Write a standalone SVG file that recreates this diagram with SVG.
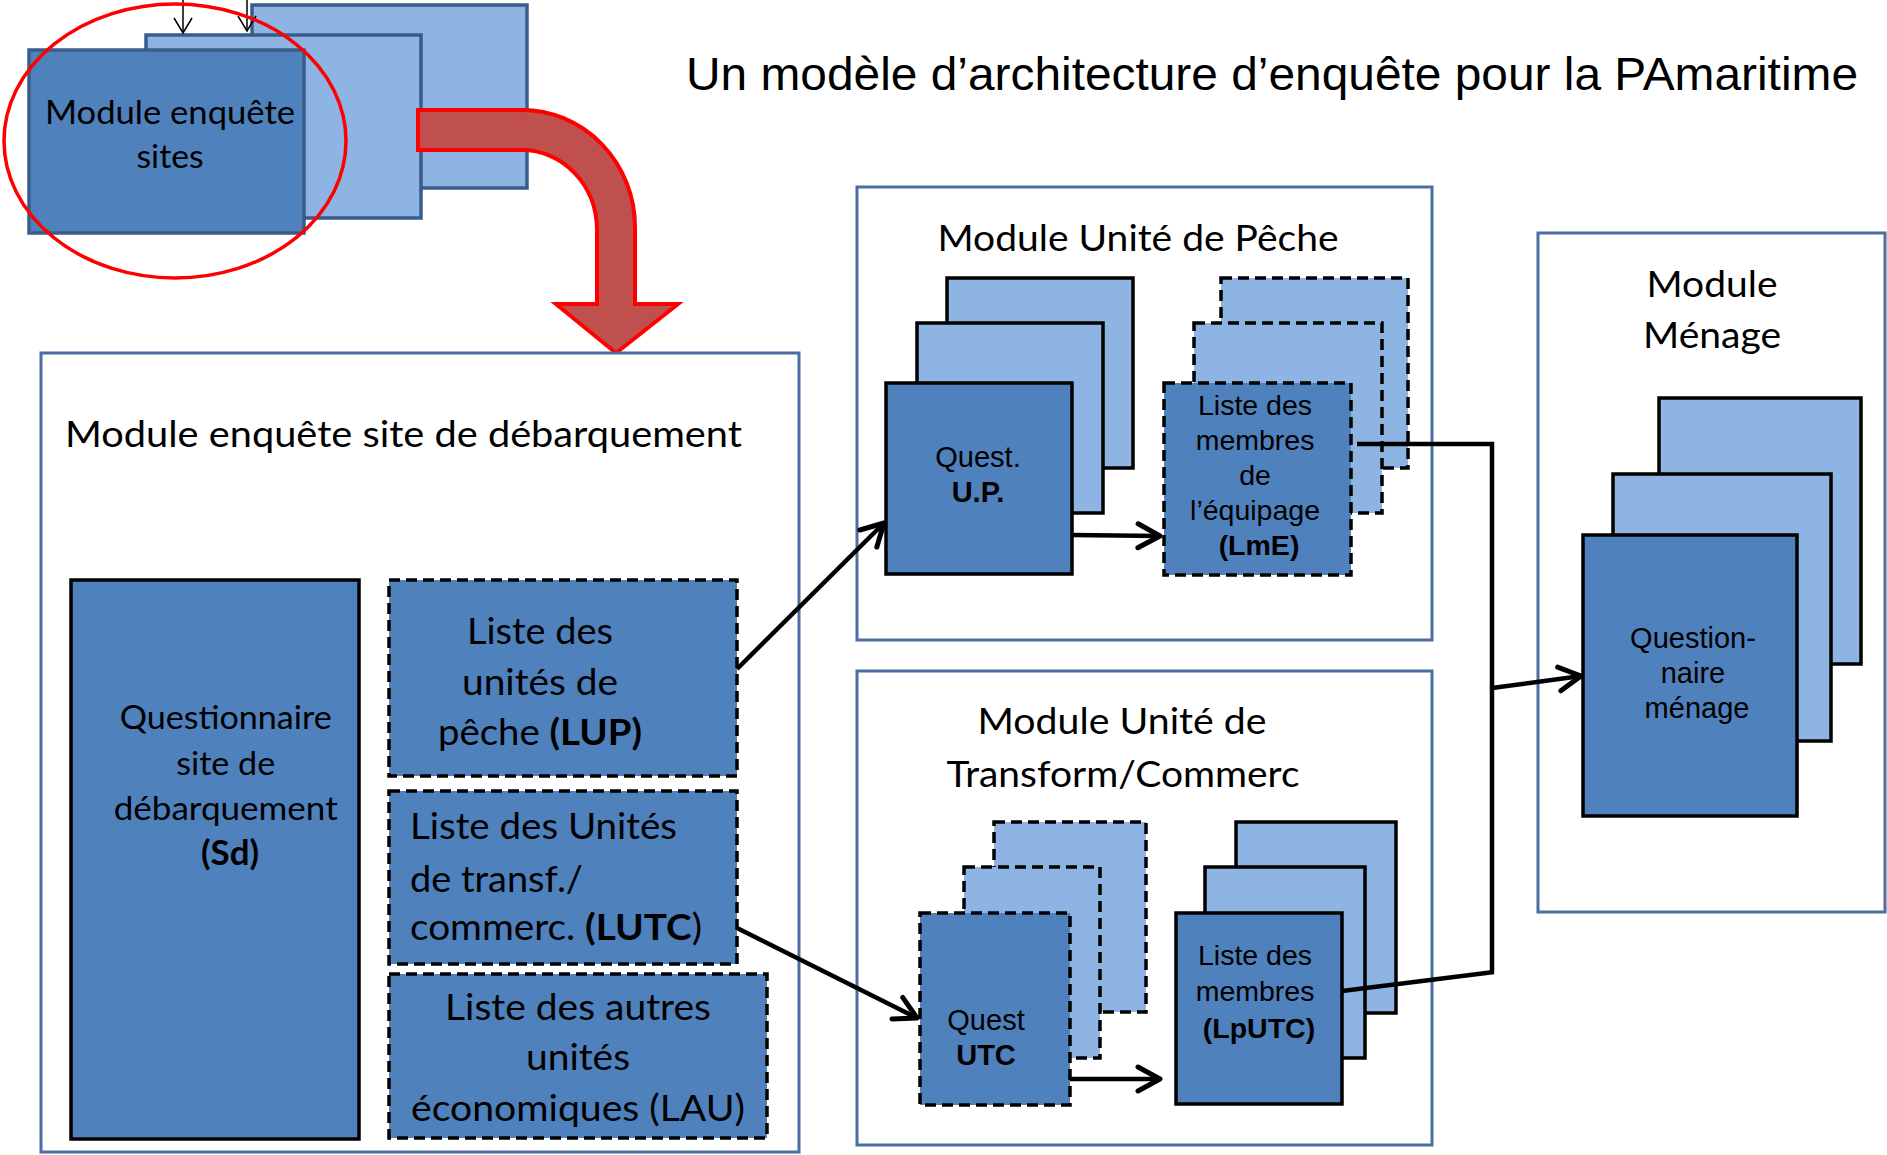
<svg xmlns="http://www.w3.org/2000/svg" width="1887" height="1155" viewBox="0 0 1887 1155">
<style>
.cont{fill:#fff;stroke:#4A6FA0;stroke-width:3}
.dk{fill:#4F81BD;stroke:#000;stroke-width:3.5}
.lt{fill:#8EB4E3;stroke:#000;stroke-width:3.5}
.dash{stroke-dasharray:11 6}
.tdk{fill:#4F81BD;stroke:#385D8A;stroke-width:3.5}
.tlt{fill:#8EB4E3;stroke:#385D8A;stroke-width:3.5}
.conn{fill:none;stroke:#000;stroke-width:4.5}
.cal{font-family:Lato,"Open Sans",sans-serif;fill:#000}
.ari{font-family:"Liberation Sans",Arial,sans-serif;fill:#000}
.b{font-weight:bold}
</style>
<defs>
<marker id="ah" markerUnits="userSpaceOnUse" viewBox="0 0 30 30" refX="26" refY="15" markerWidth="30" markerHeight="30" orient="auto"><path d="M4,3 L26,15 L4,27" fill="none" stroke="#000" stroke-width="5" stroke-linecap="round" stroke-linejoin="round"/></marker>
<marker id="ahs" markerUnits="userSpaceOnUse" viewBox="0 0 20 20" refX="17" refY="10" markerWidth="20" markerHeight="20" orient="auto"><path d="M2,1 L17,10 L2,19" fill="none" stroke="#000" stroke-width="1.5"/></marker>
</defs>
<rect width="1887" height="1155" fill="#fff"/>

<text class="ari" x="686" y="90" font-size="46" textLength="1172" lengthAdjust="spacingAndGlyphs">Un modèle d’architecture d’enquête pour la PAmaritime</text>

<g id="module-sites">
<rect class="tlt" x="252" y="5" width="275" height="183"/>
<rect class="tlt" x="146" y="35" width="275" height="183"/>
<rect class="tdk" x="29" y="50" width="275" height="183"/>
<text class="cal" text-anchor="middle" font-size="33"><tspan x="170" y="124" textLength="250" lengthAdjust="spacingAndGlyphs">Module enquête</tspan><tspan x="170" y="168" textLength="67" lengthAdjust="spacingAndGlyphs">sites</tspan></text>
</g>

<g id="top-arrows">
<line x1="183" y1="0" x2="183" y2="33" stroke="#000" stroke-width="1.5" marker-end="url(#ahs)"/>
<line x1="247" y1="0" x2="247" y2="31" stroke="#000" stroke-width="1.5" marker-end="url(#ahs)"/>
</g>

<g id="red-arrow">
<path d="M418,110 L522,110 A113,117 0 0 1 635,227 L635,304 L678,304 L616,353 L556,304 L597,304 L597,230 A75,80 0 0 0 522,150 L418,150 Z" fill="#C0504D" stroke="#FF0000" stroke-width="4" stroke-linejoin="miter"/>
</g>

<g id="highlight">
<ellipse cx="175" cy="141" rx="171" ry="137" fill="none" stroke="#FF0000" stroke-width="3.5"/>
</g>

<g id="module-debarquement">
<rect class="cont" x="41" y="353" width="758" height="799"/>
<text class="cal" x="65" y="447" font-size="36" textLength="677" lengthAdjust="spacingAndGlyphs">Module enquête site de débarquement</text>
</g>

<g id="questionnaire-sd">
<rect class="dk" x="71" y="580" width="288" height="559"/>
<text class="cal" text-anchor="middle" font-size="33.5">
<tspan x="230" y="729" textLength="212" lengthAdjust="spacingAndGlyphs">Questionnaire</tspan>
<tspan x="230" y="775" textLength="99" lengthAdjust="spacingAndGlyphs">site de</tspan>
<tspan x="230" y="820" textLength="224" lengthAdjust="spacingAndGlyphs">débarquement</tspan>
<tspan x="230" y="865" class="b" textLength="58" lengthAdjust="spacingAndGlyphs">(Sd)</tspan>
</text>
</g>

<g id="lup">
<rect class="dk dash" x="389" y="580" width="348" height="196"/>
<text class="cal" text-anchor="middle" font-size="37" x="540" y="644" textLength="146" lengthAdjust="spacingAndGlyphs">Liste des</text>
<text class="cal" text-anchor="middle" font-size="37" x="540" y="695" textLength="156" lengthAdjust="spacingAndGlyphs">unités de</text>
<text class="cal" text-anchor="middle" font-size="37" x="540" y="745" textLength="204" lengthAdjust="spacingAndGlyphs">pêche <tspan class="b">(LUP)</tspan></text>
</g>

<g id="lutc">
<rect class="dk dash" x="389" y="791" width="348" height="173"/>
<text class="cal" font-size="37" x="410" y="839" textLength="267" lengthAdjust="spacingAndGlyphs">Liste des Unités</text>
<text class="cal" font-size="37" x="410" y="892" textLength="173" lengthAdjust="spacingAndGlyphs">de transf./</text>
<text class="cal" font-size="37" x="410" y="940" textLength="292" lengthAdjust="spacingAndGlyphs">commerc. <tspan class="b">(LUTC</tspan>)</text>
</g>

<g id="lau">
<rect class="dk dash" x="389" y="974" width="378" height="164"/>
<text class="cal" text-anchor="middle" font-size="37" x="578" y="1020" textLength="266" lengthAdjust="spacingAndGlyphs">Liste des autres</text>
<text class="cal" text-anchor="middle" font-size="37" x="578" y="1070" textLength="104" lengthAdjust="spacingAndGlyphs">unités</text>
<text class="cal" text-anchor="middle" font-size="37" x="578" y="1121" textLength="334" lengthAdjust="spacingAndGlyphs">économiques (LAU)</text>
</g>

<g id="module-peche">
<rect class="cont" x="857" y="187" width="575" height="453"/>
<text class="cal" text-anchor="middle" font-size="36" x="1138" y="251" textLength="401" lengthAdjust="spacingAndGlyphs">Module Unité de Pêche</text>
</g>

<g id="quest-up">
<rect class="lt" x="947" y="278" width="186" height="190"/>
<rect class="lt" x="917" y="323" width="186" height="190"/>
<rect class="dk" x="886" y="383" width="186" height="191"/>
<text class="ari" text-anchor="middle" font-size="29"><tspan x="978" y="467">Quest.</tspan><tspan x="978" y="502" class="b">U.P.</tspan></text>
</g>

<g id="lme">
<rect class="lt dash" x="1221" y="278" width="187" height="190"/>
<rect class="lt dash" x="1194" y="323" width="188" height="190"/>
<rect class="dk dash" x="1164" y="383" width="187" height="192"/>
<text class="ari" text-anchor="middle" font-size="28.5">
<tspan x="1259" y="415">Liste des</tspan>
<tspan x="1259" y="450">membres</tspan>
<tspan x="1259" y="485">de</tspan>
<tspan x="1259" y="520">l’équipage</tspan>
<tspan x="1259" y="555" class="b">(LmE)</tspan>
</text>
</g>

<g id="module-transform">
<rect class="cont" x="857" y="671" width="575" height="474"/>
<text class="cal" text-anchor="middle" font-size="36" x="1122" y="734" textLength="289" lengthAdjust="spacingAndGlyphs">Module Unité de</text>
<text class="cal" text-anchor="middle" font-size="36" x="1123" y="787" textLength="353" lengthAdjust="spacingAndGlyphs">Transform/Commerc</text>
</g>

<g id="quest-utc">
<rect class="lt dash" x="994" y="822" width="152" height="190"/>
<rect class="lt dash" x="964" y="867" width="136" height="191"/>
<rect class="dk dash" x="920" y="913" width="150" height="192"/>
<text class="ari" text-anchor="middle" font-size="29"><tspan x="986" y="1030">Quest</tspan><tspan x="986" y="1065" class="b">UTC</tspan></text>
</g>

<g id="lputc">
<rect class="lt" x="1236" y="822" width="160" height="191"/>
<rect class="lt" x="1205" y="867" width="160" height="191"/>
<rect class="dk" x="1176" y="913" width="166" height="191"/>
<text class="ari" text-anchor="middle" font-size="28.5">
<tspan x="1259" y="965">Liste des</tspan>
<tspan x="1259" y="1001">membres</tspan>
<tspan x="1259" y="1038" class="b">(LpUTC)</tspan>
</text>
</g>

<g id="module-menage">
<rect class="cont" x="1538" y="233" width="347" height="679"/>
<text class="cal" text-anchor="middle" font-size="37" x="1712" y="297" textLength="131" lengthAdjust="spacingAndGlyphs">Module</text>
<text class="cal" text-anchor="middle" font-size="37" x="1712" y="348" textLength="138" lengthAdjust="spacingAndGlyphs">Ménage</text>
</g>

<g id="quest-menage">
<rect class="lt" x="1659" y="398" width="202" height="266"/>
<rect class="lt" x="1613" y="474" width="218" height="267"/>
<rect class="dk" x="1583" y="535" width="214" height="281"/>
<text class="ari" text-anchor="middle" font-size="29">
<tspan x="1697" y="648">Question-</tspan>
<tspan x="1697" y="683">naire</tspan>
<tspan x="1697" y="718">ménage</tspan>
</text>
</g>

<g id="connectors">
<line class="conn" x1="737" y1="669" x2="884" y2="523" marker-end="url(#ah)"/>
<line class="conn" x1="737" y1="928" x2="917" y2="1018" marker-end="url(#ah)"/>
<line class="conn" x1="1072" y1="535" x2="1160" y2="536" marker-end="url(#ah)"/>
<line class="conn" x1="1070" y1="1079" x2="1160" y2="1079" marker-end="url(#ah)"/>
<polyline class="conn" points="1357,444 1492,444 1492,972"/>
<line class="conn" x1="1342" y1="991" x2="1494" y2="972"/>
<line class="conn" x1="1492" y1="688" x2="1581" y2="676" marker-end="url(#ah)"/>
</g>
</svg>
